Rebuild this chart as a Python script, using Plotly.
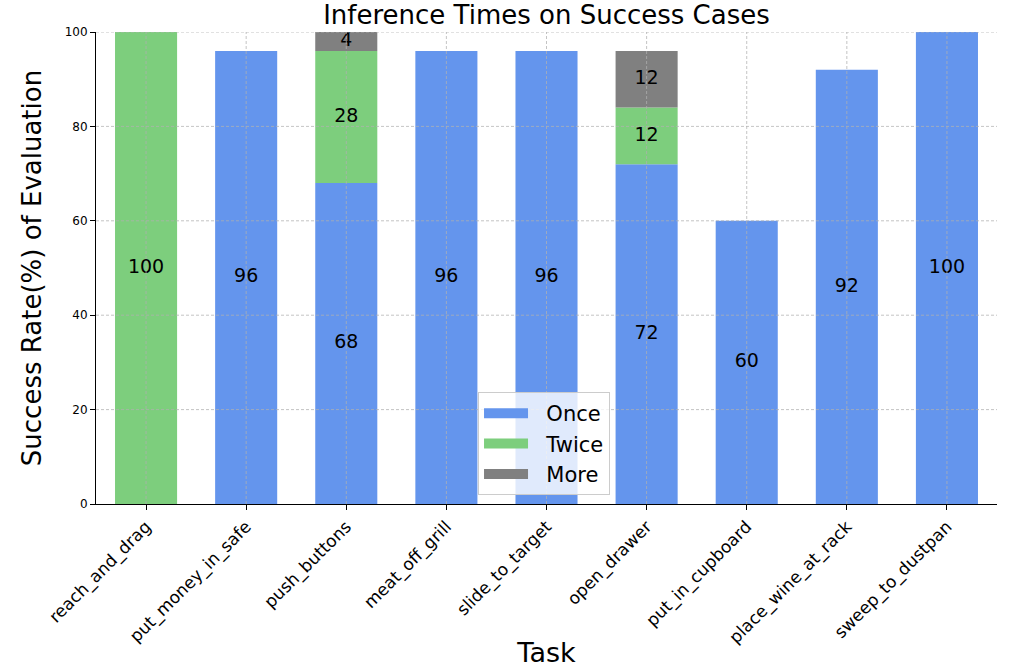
import plotly.graph_objects as go

tasks = ["reach_and_drag", "put_money_in_safe", "push_buttons", "meat_off_grill",
         "slide_to_target", "open_drawer", "put_in_cupboard", "place_wine_at_rack",
         "sweep_to_dustpan"]
once = [0, 96, 68, 96, 96, 72, 60, 92, 100]
twice = [100, 0, 28, 0, 0, 12, 0, 0, 0]
more = [0, 0, 4, 0, 0, 12, 0, 0, 0]
y_ticks = [0, 20, 40, 60, 80, 100]

series = [("Once", once, "#6495ED"), ("Twice", twice, "#7DCE7D"), ("More", more, "#808080")]

fig = go.Figure()
base = [0] * len(tasks)
lx, ly, lt = [], [], []
for name, vals, col in series:
    fig.add_trace(go.Bar(x=tasks, y=vals, base=base, name=name, marker_color=col,
                         marker_line_width=0, width=0.62, showlegend=False))
    for i, v in enumerate(vals):
        if v > 0:
            lx.append(tasks[i]); ly.append(base[i] + v / 2); lt.append(str(v))
    base = [b + v for b, v in zip(base, vals)]

# legend entries drawn as wide patches
for name, vals, col in series:
    fig.add_trace(go.Scatter(x=[None], y=[None], mode="lines", name="\u00a0\u00a0" + name,
                             line=dict(color=col, width=16)))

fig.add_trace(go.Scatter(x=lx, y=ly, text=lt, mode="text", showlegend=False,
                         textfont=dict(size=19, color="black", family="DejaVu Sans"),
                         hoverinfo="skip"))

grid_style = dict(color="rgba(176,176,176,0.75)", width=1, dash="3px,2px")
shapes = []
for t in y_ticks[1:]:
    shapes.append(dict(type="line", xref="paper", yref="y", x0=0, x1=1, y0=t, y1=t,
                       line=grid_style, layer="above"))
for i in range(len(tasks)):
    shapes.append(dict(type="line", xref="x", yref="paper", x0=i, x1=i, y0=0, y1=1,
                       line=grid_style, layer="above"))

fig.update_layout(
    barmode="overlay",
    width=1011, height=668,
    margin=dict(l=96, r=14, t=32, b=164),
    plot_bgcolor="white", paper_bgcolor="white",
    font=dict(family="DejaVu Sans", color="black"),
    title=dict(text="Inference Times on Success Cases", x=0.5405, xanchor="center",
               y=0.9775, yanchor="middle", font=dict(size=26)),
    legend=dict(x=0.424, y=0.237, xanchor="left", yanchor="top",
                bgcolor="rgba(255,255,255,0.8)", bordercolor="#cccccc", borderwidth=1,
                font=dict(size=21), traceorder="normal", itemwidth=44),
    shapes=shapes,
    showlegend=True,
)
fig.update_xaxes(range=[-0.5, 8.5], showline=True, linecolor="black", linewidth=1,
                 ticks="outside", ticklen=5, tickcolor="black", tickangle=-45,
                 tickfont=dict(size=17), showgrid=False, automargin=False,
                 title=dict(text="Task", font=dict(size=27)))
fig.update_yaxes(range=[0, 100], tickvals=y_ticks, showline=True, linecolor="black", linewidth=1,
                 ticks="outside", ticklen=5, tickcolor="black", tickfont=dict(size=12),
                 showgrid=False, zeroline=False, automargin=False,
                 title=dict(text="Success Rate(%) of Evaluation", font=dict(size=26)))

fig.write_html("out.html")
